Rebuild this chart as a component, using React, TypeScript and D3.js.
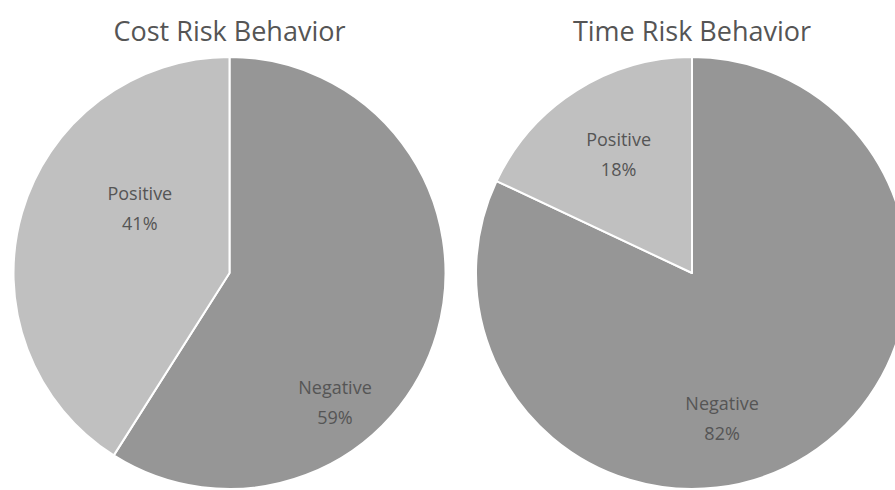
import React, { useRef, useEffect } from "react";
import * as d3 from "d3";

// chart data
const categories = ["Negative", "Positive"];
const costValues = [59, 41];
const timeValues = [82, 18];
const titles = ["Cost Risk Behavior", "Time Risk Behavior"];

const colors: Record<string, string> = {
  Negative: "#969696",
  Positive: "#c0c0c0",
};

// label placement (angle in degrees clockwise from top, fraction of radius),
// mimics the spreadsheet's "best fit" label positions
const labelPlacement = [
  { Negative: [140, 0.76], Positive: [307, 0.52] },
  { Negative: [168, 0.67], Positive: [329, 0.66] },
];

const App: React.FC = () => {
  const chartRef = useRef<SVGSVGElement | null>(null);

  useEffect(() => {
    if (!chartRef.current) return;
    d3.select(chartRef.current).selectAll("*").remove();

    const width = 895;
    const height = 490;
    const radius = 216;
    const centers = [
      { x: 229.5, y: 273 },
      { x: 692, y: 273 },
    ];

    const svg = d3
      .select(chartRef.current)
      .attr("width", width)
      .attr("height", height)
      .style("display", "block")
      .style("position", "absolute")
      .style("left", 0)
      .style("top", 0)
      .style("background", "#fff");

    const pie = d3
      .pie<number>()
      .sort(null)
      .startAngle(0)
      .endAngle(Math.PI * 2);

    const arc = d3
      .arc<d3.PieArcDatum<number>>()
      .innerRadius(0)
      .outerRadius(radius);

    [costValues, timeValues].forEach((values, i) => {
      const c = centers[i];
      const g = svg
        .append("g")
        .attr("transform", `translate(${c.x},${c.y})`);

      g.selectAll("path")
        .data(pie(values))
        .join("path")
        .attr("d", arc)
        .attr("fill", (_, j) => colors[categories[j]])
        .attr("stroke", "#fff")
        .attr("stroke-width", 2)
        .attr("stroke-linejoin", "round");

      const total = d3.sum(values);
      categories.forEach((cat, j) => {
        const [deg, frac] = (labelPlacement[i] as any)[cat];
        const a = (deg * Math.PI) / 180;
        const lx = Math.sin(a) * radius * frac;
        const ly = -Math.cos(a) * radius * frac;
        const t = g
          .append("text")
          .attr("text-anchor", "middle")
          .attr("fill", "#555")
          .style("font-family", "'Open Sans', 'Noto Sans', sans-serif")
          .style("font-size", "18px");
        t.append("tspan")
          .attr("x", lx)
          .attr("y", ly - 5)
          .text(cat);
        t.append("tspan")
          .attr("x", lx)
          .attr("y", ly + 25)
          .text(`${Math.round((values[j] / total) * 100)}%`);
      });

      svg
        .append("text")
        .attr("x", c.x)
        .attr("y", 41)
        .attr("text-anchor", "middle")
        .attr("fill", "#555")
        .style("font-family", "'Open Sans', 'Noto Sans', sans-serif")
        .style("font-size", "27px")
        .text(titles[i]);
    });
  }, []);

  return <svg ref={chartRef}></svg>;
};

export default App;
